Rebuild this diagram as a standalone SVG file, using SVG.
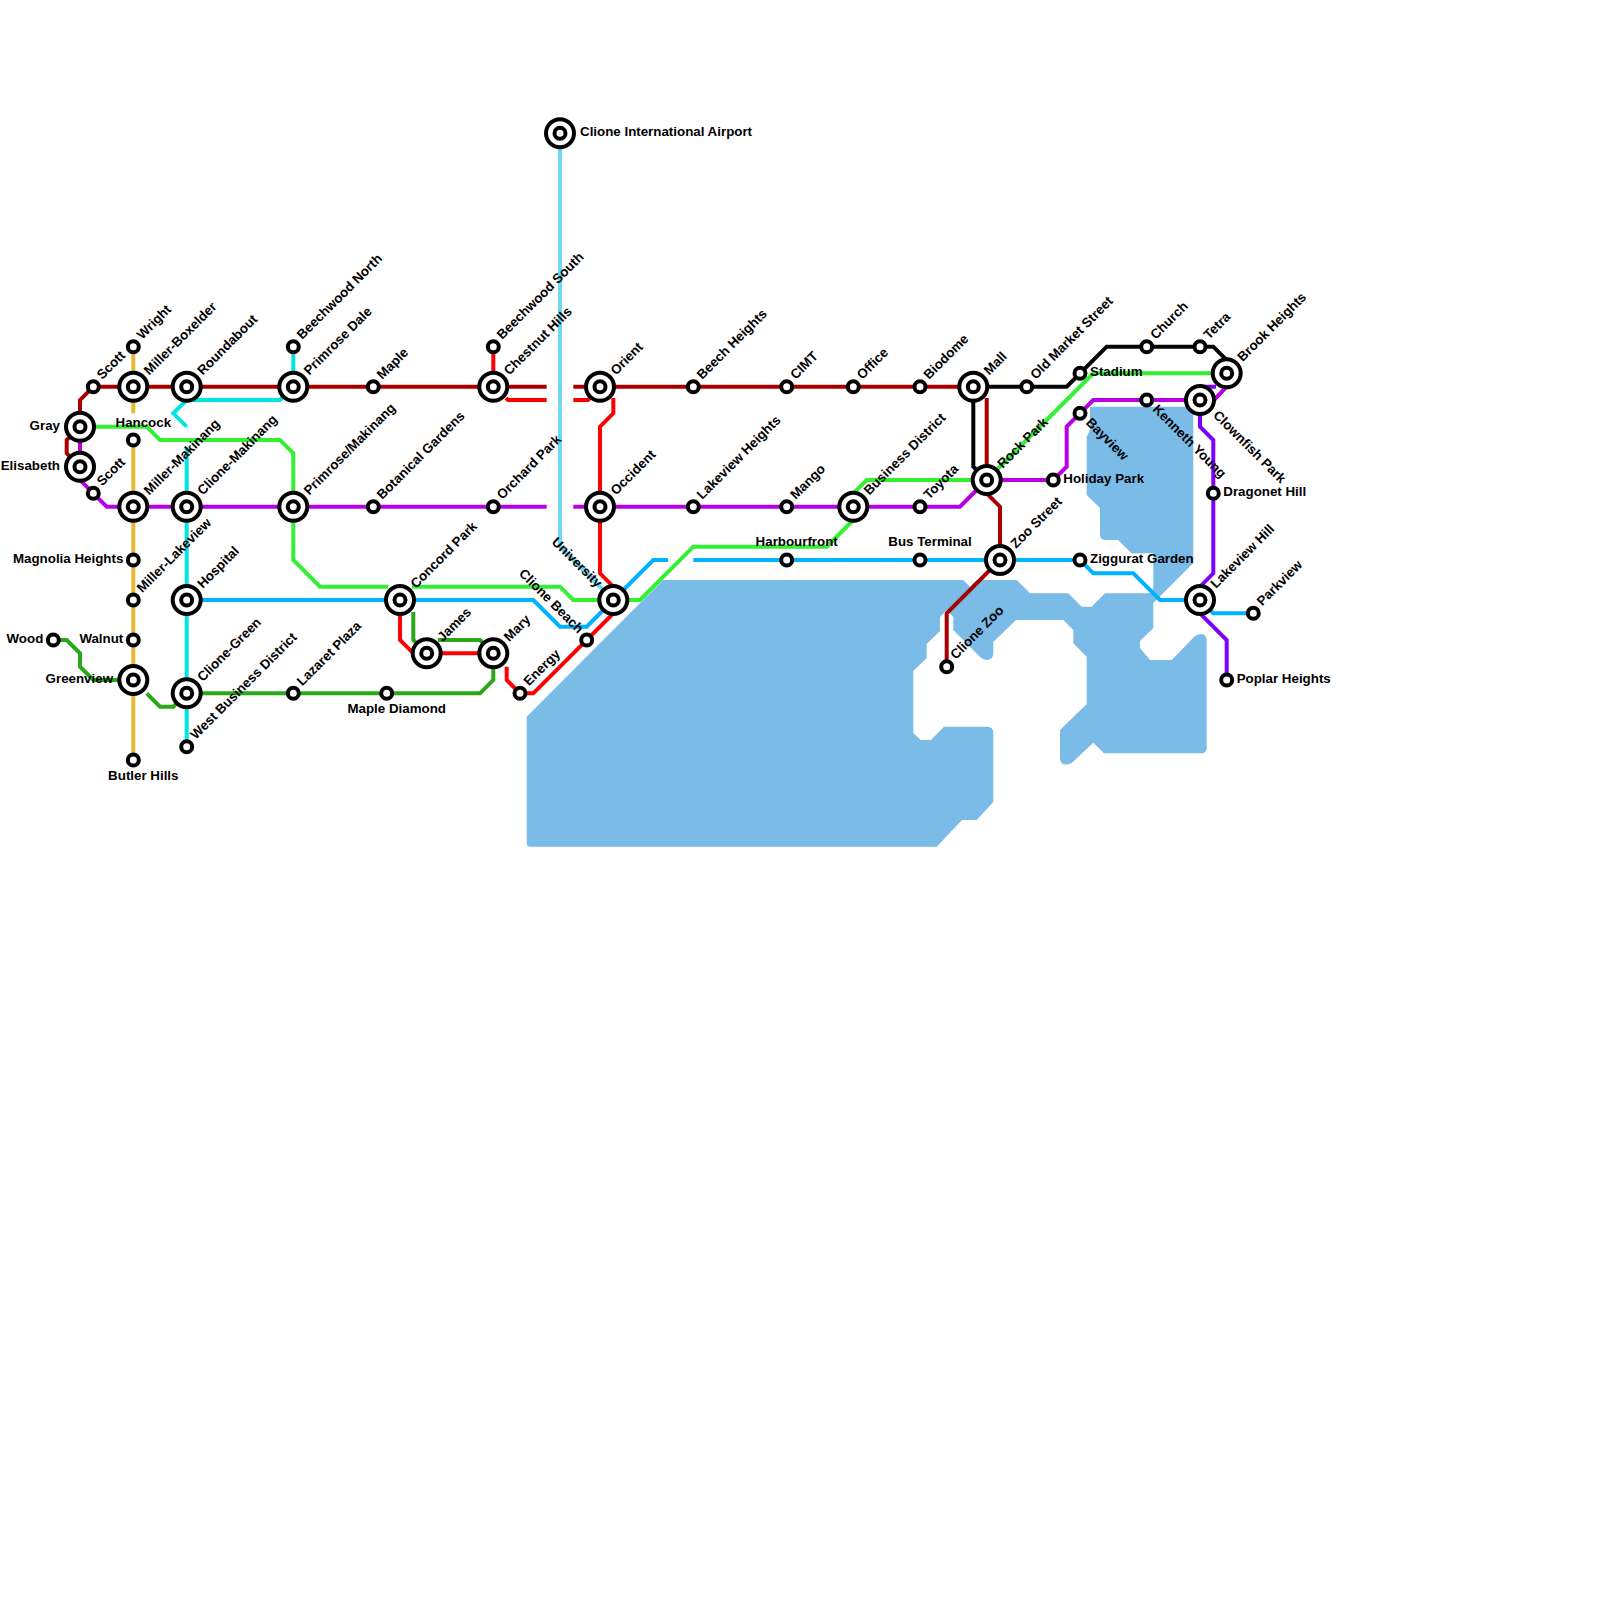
<svg xmlns="http://www.w3.org/2000/svg" width="1600" height="1600" viewBox="0 0 1600 1600">
<defs>
<style>
.l{fill:none;stroke-width:4;stroke-linejoin:miter}
.dr{stroke:#a80000}.bk{stroke:#000}.pu{stroke:#b800e6}.vi{stroke:#8000ff}.cy{stroke:#00e6e6}.lb{stroke:#70d8f5}.bl{stroke:#00b3ff}.gr{stroke:#33f033}.re{stroke:#ff0000}.dg{stroke:#2aa81a}.ye{stroke:#e6b833}
.o{fill:#fff;stroke:#000;stroke-width:4}
text{font-family:"Liberation Sans",Arial,sans-serif;font-weight:bold;font-size:13.33px;fill:#000}
.e{text-anchor:end}.m{text-anchor:middle}
</style>
<g id="big"><circle class="o" r="14"/><circle class="o" r="5.5"/></g>
<circle id="small" class="o" r="5.5"/>
</defs>
<rect width="1600" height="1600" fill="#fff"/>
<path id="water" fill="#7abbe8" d="M526.7 716.7L663 580H963.3L970 586.7L976.7 580H1016.7L1030 593.3H1068.3L1081.7 606.7H1091.7L1105 593.3H1146.7Q1153.3 593.3 1153.3 587V553.3H1131.7L1118 540H1106Q1100 540 1100 534V508L1086.7 495V437L1090 430V406.7H1193.3V563L1153.3 603V628L1140 641V648L1150 660H1171.7L1195 636Q1206.7 630 1206.7 642V748Q1206.7 753.3 1201 753.3H1104L1093.3 742.7L1071.7 763Q1060 768 1060 757V730L1086.7 704V656.7L1073.3 643.3V630L1063.3 620H1016L993.3 642V653Q993.3 660 986.7 660Q983 660 980 657L953.3 630V617L946.7 610L940 617V631L926.7 644V658L913.3 671V733L920.7 740H931L944 726.7H987Q993.3 726.7 993.3 733V802L976.7 820H962L936.7 846.7H530Q526.7 846.7 526.7 843Z"/>
<g id="connectors">
<path class="l lb" d="M560 133.3V546.7L613.3 600"/>
<path class="l ye" d="M133.3 346.7V413.3M133.3 440V760"/>
<path class="l dr" d="M80 426.7V400L93.3 386.7H546.7M573.3 386.7H973.3M80 426.7L66.7 440V453.3L80 466.7M986.7 398V480M986.7 493.3L1000 506.7V560L946.7 613.3V666.7"/>
<path class="l bk" d="M973.3 386.7H1066.7L1106.7 346.7H1213.3L1226.7 360V373.3M973.3 386.7V466.7L986.7 480"/>
<path class="l pu" d="M80 426.7V480L106.7 506.7H546.7M573.3 506.7H960L986.7 480H1053.3L1066.7 466.7V426.7L1093.3 400H1200M1214 400L1226.7 386.7"/>
<path class="l vi" d="M1216 386.7H1200V426.7L1213.3 440V573.3L1200 586.7V613.3L1226.7 640V680"/>
<path class="l cy" d="M293.3 346.7V386.7L280 400H186.7L173.3 413.3L186.7 426.7M186.7 446.7V746.7"/>
<path class="l bl" d="M186.7 600H533.3L560 626.7H586.7L613.3 600L653.3 560H668M693.3 560H1080L1093.3 573.3H1133.3L1160 600H1200L1213.3 613.3H1253.3"/>
<path class="l gr" d="M80 426.7H146.7L160 440H280L293.3 453.3V560L320 586.7H388M412 586.7H560L573.3 600H640L693.3 546.7H826.7L853.3 520M853.3 493.3L866.7 480H986.7L1093.3 373.3H1226.7"/>
<path class="l re" d="M493.3 346.7V386.7M506 398L508 400H546.7M573.3 400H588L593 395M613.3 398V413.3L600 426.7V573.3L613.3 586.7V613.3L533.3 693.3H520L506.7 680V666.7M493.3 653.3H413.3L400 640V600"/>
<path class="l dg" d="M53.3 640H66.7L80 653.3V666.7L93.3 680H133.3M146.7 693.3L160 706.7H173.3L186.7 693.3H480L493.3 680V653.3M413.3 612V640L426.7 653.3M438 640H480L493.3 653.3"/>
</g>
<g id="st-airport"><use href="#big" x="560" y="133.3"/><text x="580" y="136">Clione International Airport</text></g>
<g id="st-gray"><use href="#big" x="80" y="426.7"/><text class="e" x="60" y="430">Gray</text></g>
<g id="st-elisabeth"><use href="#big" x="80" y="466.7"/><text class="e" x="60" y="470">Elisabeth</text></g>
<g id="st-scott1"><use href="#small" x="93.3" y="386.7"/><text transform="translate(102.3 380) rotate(-45)">Scott</text></g>
<g id="st-scott2"><use href="#small" x="93.3" y="493.3"/><text transform="translate(102.3 486.6) rotate(-45)">Scott</text></g>
<g id="st-wright"><use href="#small" x="133.3" y="346.7"/><text transform="translate(142.3 340) rotate(-45)">Wright</text></g>
<g id="st-miller-boxelder"><use href="#big" x="133.3" y="386.7"/><text transform="translate(149.3 375.7) rotate(-45)">Miller-Boxelder</text></g>
<g id="st-roundabout"><use href="#big" x="186.7" y="386.7"/><text transform="translate(202.7 375.7) rotate(-45)">Roundabout</text></g>
<g id="st-beechwood-n"><use href="#small" x="293.3" y="346.7"/><text transform="translate(302.3 340) rotate(-45)">Beechwood North</text></g>
<g id="st-primrose-dale"><use href="#big" x="293.3" y="386.7"/><text transform="translate(309.3 375.7) rotate(-45)">Primrose Dale</text></g>
<g id="st-maple"><use href="#small" x="373.3" y="386.7"/><text transform="translate(382.3 380) rotate(-45)">Maple</text></g>
<g id="st-beechwood-s"><use href="#small" x="493.3" y="346.7"/><text transform="translate(502.3 340) rotate(-45)">Beechwood South</text></g>
<g id="st-chestnut"><use href="#big" x="493.3" y="386.7"/><text transform="translate(509.3 375.7) rotate(-45)">Chestnut Hills</text></g>
<g id="st-orient"><use href="#big" x="600" y="386.7"/><text transform="translate(616 375.7) rotate(-45)">Orient</text></g>
<g id="st-beech"><use href="#small" x="693.3" y="386.7"/><text transform="translate(702.3 380) rotate(-45)">Beech Heights</text></g>
<g id="st-cimt"><use href="#small" x="786.7" y="386.7"/><text transform="translate(795.7 380) rotate(-45)">CIMT</text></g>
<g id="st-office"><use href="#small" x="853.3" y="386.7"/><text transform="translate(862.3 380) rotate(-45)">Office</text></g>
<g id="st-biodome"><use href="#small" x="920" y="386.7"/><text transform="translate(929 380) rotate(-45)">Biodome</text></g>
<g id="st-mall"><use href="#big" x="973.3" y="386.7"/><text transform="translate(989.3 375.7) rotate(-45)">Mall</text></g>
<g id="st-oldmarket"><use href="#small" x="1026.7" y="386.7"/><text transform="translate(1035.7 380) rotate(-45)">Old Market Street</text></g>
<g id="st-church"><use href="#small" x="1146.7" y="346.7"/><text transform="translate(1155.7 340) rotate(-45)">Church</text></g>
<g id="st-tetra"><use href="#small" x="1200" y="346.7"/><text transform="translate(1209 340) rotate(-45)">Tetra</text></g>
<g id="st-brook"><use href="#big" x="1226.7" y="373.3"/><text transform="translate(1242.7 362.3) rotate(-45)">Brook Heights</text></g>
<g id="st-stadium"><use href="#small" x="1080" y="373.3"/><text x="1090" y="375.5">Stadium</text></g>
<g id="st-clownfish"><use href="#big" x="1200" y="400"/><text transform="translate(1212.5 416) rotate(45)">Clownfish Park</text></g>
<g id="st-kenneth"><use href="#small" x="1146.7" y="400"/><text transform="translate(1152 410) rotate(45)">Kenneth Young</text></g>
<g id="st-bayview"><use href="#small" x="1080" y="413.3"/><text transform="translate(1085.3 423.3) rotate(45)">Bayview</text></g>
<g id="st-holiday"><use href="#small" x="1053.3" y="480"/><text x="1063.3" y="482.5">Holiday Park</text></g>
<g id="st-dragonet"><use href="#small" x="1213.3" y="493.3"/><text x="1223.3" y="495.8">Dragonet Hill</text></g>
<g id="st-ziggurat"><use href="#small" x="1080" y="560"/><text x="1090" y="562.5">Ziggurat Garden</text></g>
<g id="st-lakeviewhill"><use href="#big" x="1200" y="600"/><text transform="translate(1216 589) rotate(-45)">Lakeview Hill</text></g>
<g id="st-parkview"><use href="#small" x="1253.3" y="613.3"/><text transform="translate(1262.3 606.6) rotate(-45)">Parkview</text></g>
<g id="st-poplar"><use href="#small" x="1226.7" y="680"/><text x="1236.7" y="682.5">Poplar Heights</text></g>
<g id="st-hancock"><use href="#small" x="133.3" y="440"/><text class="m" x="143.3" y="426.7">Hancock</text></g>
<g id="st-miller-makinang"><use href="#big" x="133.3" y="506.7"/><text transform="translate(149.3 495.7) rotate(-45)">Miller-Makinang</text></g>
<g id="st-clione-makinang"><use href="#big" x="186.7" y="506.7"/><text transform="translate(202.7 495.7) rotate(-45)">Clione-Makinang</text></g>
<g id="st-primrose-makinang"><use href="#big" x="293.3" y="506.7"/><text transform="translate(309.3 495.7) rotate(-45)">Primrose/Makinang</text></g>
<g id="st-botanical"><use href="#small" x="373.3" y="506.7"/><text transform="translate(382.3 500) rotate(-45)">Botanical Gardens</text></g>
<g id="st-orchard"><use href="#small" x="493.3" y="506.7"/><text transform="translate(502.3 500) rotate(-45)">Orchard Park</text></g>
<g id="st-occident"><use href="#big" x="600" y="506.7"/><text transform="translate(616 495.7) rotate(-45)">Occident</text></g>
<g id="st-lakeview-h"><use href="#small" x="693.3" y="506.7"/><text transform="translate(702.3 500) rotate(-45)">Lakeview Heights</text></g>
<g id="st-mango"><use href="#small" x="786.7" y="506.7"/><text transform="translate(795.7 500) rotate(-45)">Mango</text></g>
<g id="st-business"><use href="#big" x="853.3" y="506.7"/><text transform="translate(869.3 495.7) rotate(-45)">Business District</text></g>
<g id="st-toyota"><use href="#small" x="920" y="506.7"/><text transform="translate(929 500) rotate(-45)">Toyota</text></g>
<g id="st-rockpark"><use href="#big" x="986.7" y="480"/><text transform="translate(1002.7 469) rotate(-45)">Rock Park</text></g>
<g id="st-magnolia"><use href="#small" x="133.3" y="560"/><text class="e" x="123.3" y="562.5">Magnolia Heights</text></g>
<g id="st-harbourfront"><use href="#small" x="786.7" y="560"/><text class="m" x="796.7" y="546">Harbourfront</text></g>
<g id="st-busterminal"><use href="#small" x="920" y="560"/><text class="m" x="930" y="546">Bus Terminal</text></g>
<g id="st-zoo"><use href="#big" x="1000" y="560"/><text transform="translate(1016 549) rotate(-45)">Zoo Street</text></g>
<g id="st-miller-lakeview"><use href="#small" x="133.3" y="600"/><text transform="translate(142.3 593.3) rotate(-45)">Miller-Lakeview</text></g>
<g id="st-hospital"><use href="#big" x="186.7" y="600"/><text transform="translate(202.7 589) rotate(-45)">Hospital</text></g>
<g id="st-concord"><use href="#big" x="400" y="600"/><text transform="translate(416 589) rotate(-45)">Concord Park</text></g>
<g id="st-university"><use href="#big" x="613.3" y="600"/><text class="e" transform="translate(596.7 588.3) rotate(45)">University</text></g>
<g id="st-wood"><use href="#small" x="53.3" y="640"/><text class="e" x="43.3" y="642.5">Wood</text></g>
<g id="st-walnut"><use href="#small" x="133.3" y="640"/><text class="e" x="123.3" y="642.5">Walnut</text></g>
<g id="st-clionebeach"><use href="#small" x="586.7" y="640"/><text class="e" transform="translate(578 634) rotate(45)">Clione Beach</text></g>
<g id="st-james"><use href="#big" x="426.7" y="653.3"/><text transform="translate(442.7 642.3) rotate(-45)">James</text></g>
<g id="st-mary"><use href="#big" x="493.3" y="653.3"/><text transform="translate(509.3 642.3) rotate(-45)">Mary</text></g>
<g id="st-clionezoo"><use href="#small" x="946.7" y="666.7"/><text transform="translate(955.7 660) rotate(-45)">Clione Zoo</text></g>
<g id="st-greenview"><use href="#big" x="133.3" y="680"/><text class="e" x="113" y="682.5">Greenview</text></g>
<g id="st-clione-green"><use href="#big" x="186.7" y="693.3"/><text transform="translate(202.7 682.3) rotate(-45)">Clione-Green</text></g>
<g id="st-lazaret"><use href="#small" x="293.3" y="693.3"/><text transform="translate(302.3 686.6) rotate(-45)">Lazaret Plaza</text></g>
<g id="st-maplediamond"><use href="#small" x="386.7" y="693.3"/><text class="m" x="396.7" y="712.5">Maple Diamond</text></g>
<g id="st-energy"><use href="#small" x="520" y="693.3"/><text transform="translate(529 686.6) rotate(-45)">Energy</text></g>
<g id="st-westbusiness"><use href="#small" x="186.7" y="746.7"/><text transform="translate(195.7 740) rotate(-45)">West Business District</text></g>
<g id="st-butler"><use href="#small" x="133.3" y="760"/><text class="m" x="143.3" y="780">Butler Hills</text></g>
</svg>
